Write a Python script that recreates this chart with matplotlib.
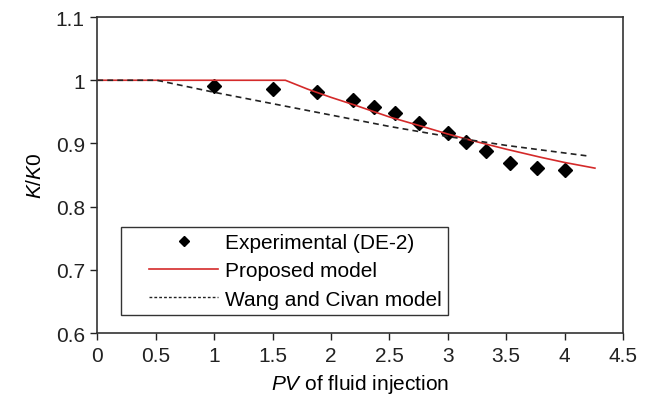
import matplotlib
matplotlib.use("Agg")
import matplotlib.pyplot as plt
from matplotlib.legend_handler import HandlerLine2D

plt.rcParams["font.family"] = ["Liberation Sans", "DejaVu Sans"]
plt.rcParams["mathtext.fontset"] = "custom"
plt.rcParams["mathtext.it"] = "Liberation Sans:italic"
plt.rcParams["mathtext.rm"] = "Liberation Sans"

# experimental data (DE-2)
exp_pv = [1.0, 1.5, 1.877, 2.19, 2.37, 2.547, 2.755, 2.998, 3.16, 3.33, 3.53, 3.76, 4.0]
exp_k = [0.991, 0.986, 0.982, 0.968, 0.958, 0.948, 0.932, 0.916, 0.902, 0.8875, 0.8685, 0.861, 0.858]

# proposed model
prop_pv = [0.0, 1.61, 1.8, 2.0, 2.2, 2.5, 2.8, 3.0, 3.2, 3.5, 3.8, 4.0, 4.26]
prop_k = [1.0, 1.0, 0.986, 0.973, 0.961, 0.942, 0.926, 0.915, 0.905, 0.891, 0.878, 0.870, 0.861]

# Wang and Civan model
wc_pv = [0.0, 0.51, 1.0, 1.5, 2.0, 2.5, 3.0, 3.5, 4.0, 4.21]
wc_k = [1.0, 1.0, 0.981, 0.963, 0.945, 0.927, 0.911, 0.897, 0.885, 0.880]

x_ticks = [0, 0.5, 1, 1.5, 2, 2.5, 3, 3.5, 4, 4.5]
x_tick_labels = ["0", "0.5", "1", "1.5", "2", "2.5", "3", "3.5", "4", "4.5"]
y_ticks = [0.6, 0.7, 0.8, 0.9, 1.0, 1.1]
y_tick_labels = ["0.6", "0.7", "0.8", "0.9", "1", "1.1"]

FS = 15


class OffsetHandler(HandlerLine2D):
    """Legend handle drawn with some empty space on its left."""

    def __init__(self, offset, **kw):
        super().__init__(**kw)
        self.offset = offset

    def create_artists(self, legend, orig_handle, xdescent, ydescent, width, height,
                       fontsize, trans):
        return super().create_artists(legend, orig_handle, xdescent - self.offset, ydescent,
                                      width - self.offset, height, fontsize, trans)


fig = plt.figure(figsize=(6.53, 4.1), dpi=100)
ax = fig.add_axes([0.149, 0.185, 0.805, 0.771])

ax.plot(exp_pv, exp_k, linestyle="none", marker="D", markersize=7.5,
        color="black", label="Experimental (DE-2)")
ax.plot(prop_pv, prop_k, color="#d42a2a", linewidth=1.2, label="Proposed model")
ax.plot(wc_pv, wc_k, color="#222222", linewidth=1.2, linestyle=(0, (3.5, 2.5)),
        label="Wang and Civan model")

ax.set_xlim(0, 4.5)
ax.set_ylim(0.6, 1.1)
ax.set_xticks(x_ticks)
ax.set_xticklabels(x_tick_labels)
ax.set_yticks(y_ticks)
ax.set_yticklabels(y_tick_labels)
ax.tick_params(direction="out", length=5, width=1, labelsize=FS, colors="#222222", pad=4)

for s in ax.spines.values():
    s.set_linewidth(1.2)
    s.set_color("#333333")

ax.set_xlabel(r"$\it{PV}$ of fluid injection", fontsize=FS, labelpad=5)
ax.set_ylabel(r"$\it{K/K0}$", fontsize=FS, labelpad=8)

handles, labels = ax.get_legend_handles_labels()
handles[0] = plt.Line2D([], [], linestyle="none", marker="D", markersize=5, color="black")
handles[2] = plt.Line2D([], [], color="#222222", linewidth=1.0, linestyle=(0, (2, 1.5)))
off = 16
leg = ax.legend(handles, labels, loc="lower left", bbox_to_anchor=(0.045, 0.058),
                fontsize=FS, frameon=True, fancybox=False,
                handlelength=4.35, handletextpad=0.35, borderaxespad=0, labelspacing=0.45,
                borderpad=0.3,
                handler_map={h: OffsetHandler(off) for h in handles})
leg.get_frame().set_edgecolor("black")
leg.get_frame().set_linewidth(1.0)

fig.savefig("out.png", dpi=100, facecolor="white")
